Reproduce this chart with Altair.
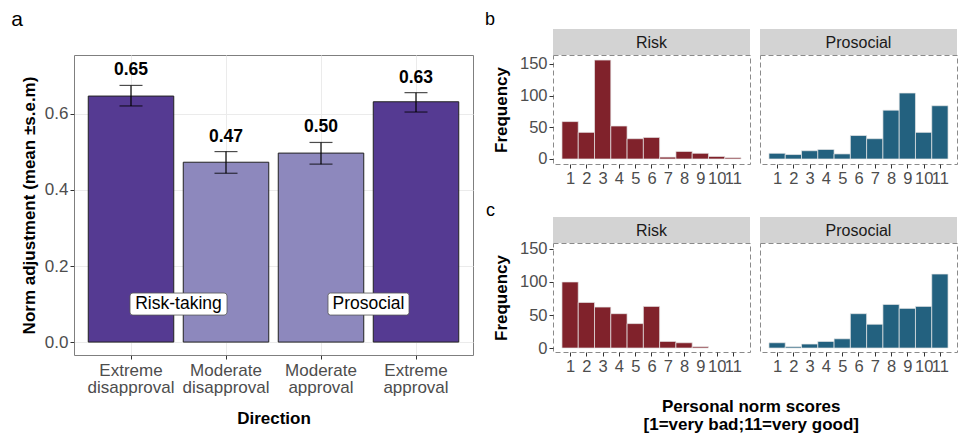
import altair as alt
import pandas as pd

FONT = "Liberation Sans"

# ---------------- panel a data ----------------
directions = ["Extreme disapproval", "Moderate disapproval", "Moderate approval", "Extreme approval"]
intensity = ["Extreme", "Moderate", "Moderate", "Extreme"]
means = [0.647, 0.473, 0.497, 0.632]
lower = [0.621, 0.444, 0.468, 0.605]
upper = [0.675, 0.501, 0.525, 0.656]
mean_labels = ["0.65", "0.47", "0.50", "0.63"]

domain_labels = ["Risk-taking", "Prosocial"]
domain_anchor = ["Extreme disapproval", "Moderate approval"]
domain_y = [0.1, 0.1]

# ---------------- panels b / c data ----------------
scores = list(range(1, 12))
b_risk = [59, 42, 156, 52, 32, 34, 3, 12, 9, 4, 2]
b_pro = [9, 7, 13, 15, 8, 37, 32, 77, 104, 42, 84]
c_risk = [100, 69, 62, 52, 37, 63, 10, 8, 2, 0, 0]
c_pro = [8, 2, 6, 10, 14, 52, 36, 66, 60, 63, 112]
facet_names = ["Risk", "Prosocial"]

PURPLE = ["#553A92", "#8D88BD"]
RED = "#80222B"
BLUE = "#23617F"

# ---------------- panel a ----------------
df_a = pd.DataFrame({"direction": directions, "intensity": intensity, "mean": means,
                     "lower": lower, "upper": upper, "label": mean_labels})

A_W, A_H = 399, 300
x_a = alt.X("direction:N", sort=directions,
            scale=alt.Scale(paddingInner=0.1, paddingOuter=0.15),
            axis=alt.Axis(title="Direction", labelAngle=0, labelExpr="split(datum.label, ' ')",
                          labelFontSize=17, labelColor="#4d4d4d", labelLineHeight=17.5,
                          labelPadding=3, tickSize=4, tickColor="#333333", domain=False,
                          grid=True, gridColor="#EBEBEB", titleFontSize=17, titleFontWeight="bold",
                          titleColor="#000000", titlePadding=15))
y_scale_a = alt.Scale(domain=[-0.034, 0.755], nice=False, zero=False)
y_a = alt.Y("mean:Q", scale=y_scale_a,
            axis=alt.Axis(title="Norm adjustment (mean \u00b1s.e.m)", values=[0, 0.2, 0.4, 0.6],
                          format=".1f", labelFontSize=17, labelColor="#4d4d4d", tickSize=4,
                          tickColor="#333333", labelPadding=2, domain=False, grid=True,
                          gridColor="#EBEBEB", titleFontSize=17, titleFontWeight="bold",
                          titleColor="#000000", titlePadding=6))

base_a = alt.Chart(df_a)
bars_a = base_a.mark_bar(stroke="#222222", strokeWidth=1).encode(
    x=x_a, y=y_a, y2=alt.datum(0),
    color=alt.Color("intensity:N", scale=alt.Scale(domain=["Extreme", "Moderate"], range=PURPLE), legend=None),
)
err_a = base_a.mark_rule(color="#000000", strokeWidth=1.2).encode(
    x=alt.X("direction:N", sort=directions), y=alt.Y("lower:Q", scale=y_scale_a), y2="upper:Q")
cap_lo = base_a.mark_tick(color="#000000", size=23, thickness=1.2).encode(
    x=alt.X("direction:N", sort=directions), y=alt.Y("lower:Q", scale=y_scale_a))
cap_hi = base_a.mark_tick(color="#000000", size=23, thickness=1.2).encode(
    x=alt.X("direction:N", sort=directions), y=alt.Y("upper:Q", scale=y_scale_a))
txt_a = base_a.mark_text(fontSize=17.5, fontWeight="bold", baseline="alphabetic", dy=-10, color="#000000").encode(
    x=alt.X("direction:N", sort=directions), y=alt.Y("upper:Q", scale=y_scale_a), text="label:N")

df_dom = pd.DataFrame({"direction": domain_anchor, "y": domain_y, "label": domain_labels})
box_widths = {"Risk-taking": 97, "Prosocial": 81}
box_layers = []
for lab in domain_labels:
    w = box_widths[lab]
    h = 11.0 / w * 2  # half-height in unit coords (22 px box)
    r = 0.06
    path = (f"M{-1 + r},{-h} L{1 - r},{-h} Q1,{-h} 1,{-h + r} L1,{h - r} Q1,{h} {1 - r},{h} "
            f"L{-1 + r},{h} Q-1,{h} -1,{h - r} L-1,{-h + r} Q-1,{-h} {-1 + r},{-h} Z")
    box_layers.append(
        alt.Chart(df_dom).transform_filter(alt.datum.label == lab).mark_point(
            shape=path, size=w * w, filled=True, fill="#ffffff", stroke="#555555",
            strokeWidth=0.8, opacity=1, xOffset=47.5).encode(
            x=alt.X("direction:N", sort=directions), y=alt.Y("y:Q", scale=y_scale_a)))
dom_txt = alt.Chart(df_dom).mark_text(fontSize=17.5, color="#000000", xOffset=47.5).encode(
    x=alt.X("direction:N", sort=directions), y=alt.Y("y:Q", scale=y_scale_a), text="label:N")

panel_a = alt.layer(bars_a, err_a, cap_lo, cap_hi, txt_a, *box_layers, dom_txt).properties(
    width=A_W, height=A_H,
    view=alt.ViewBackground(stroke="#7f7f7f", strokeWidth=1),
    title=alt.TitleParams("a", anchor="start", frame="bounds", fontSize=21, fontWeight="normal",
                          offset=25, dx=-9, color="#000000"),
)

# ---------------- panels b / c ----------------
H_W, H_H = 197, 109


def hist(values, facet, color, ydomain, show_y):
    df = pd.DataFrame({"score": scores, "count": values})
    base = alt.Chart(df).transform_filter("datum.count > 0").transform_calculate(
        lo="datum.score - 0.5", hi="datum.score + 0.5")
    if show_y:
        yaxis = alt.Axis(title="Frequency", values=[0, 50, 100, 150], labelFontSize=16.5,
                         labelColor="#4d4d4d", tickSize=4, tickColor="#333333", labelPadding=2,
                         domain=False, grid=False, titleFontSize=17, titleFontWeight="bold",
                         titleColor="#000000", titlePadding=9)
    else:
        yaxis = None
    bars = base.mark_rect(fill=color, stroke="#e8e8e8", strokeWidth=0.7).encode(
        x=alt.X("lo:Q", scale=alt.Scale(domain=[-0.05, 12.05], nice=False, zero=False),
                axis=alt.Axis(values=scores, title=None, labelFontSize=16.5, labelColor="#4d4d4d",
                              tickSize=4, tickColor="#333333", labelPadding=2, domain=False,
                              grid=False, labelOverlap=False, labelFlush=False, format="d")),
        x2="hi:Q",
        y=alt.Y("count:Q", scale=alt.Scale(domain=ydomain, nice=False, zero=False), axis=yaxis),
        y2=alt.datum(0),
    )
    sdf = pd.DataFrame({"facet": [facet]})
    strip = alt.Chart(sdf).mark_rect(fill="#D3D3D3").encode(
        x=alt.value(0), x2=alt.value(H_W), y=alt.value(-26), y2=alt.value(0))
    stxt = alt.Chart(sdf).mark_text(fontSize=16, color="#1a1a1a", baseline="middle").encode(
        x=alt.value(H_W / 2), y=alt.value(-12.5), text="facet:N")
    return alt.layer(bars, strip, stxt).properties(
        width=H_W, height=H_H,
        view=alt.ViewBackground(stroke="#8a8a8a", strokeWidth=1, strokeDash=[5, 3]))


b_row = alt.hconcat(
    hist(b_risk, facet_names[0], RED, [-7.9, 164], True),
    hist(b_pro, facet_names[1], BLUE, [-7.9, 164], False),
    spacing=8,
).properties(title=alt.TitleParams("b", anchor="start", frame="bounds", fontSize=18, fontWeight="normal",
                                   offset=0, dx=-7, color="#000000"))

c_row = alt.hconcat(
    hist(c_risk, facet_names[0], RED, [-6, 159], True),
    hist(c_pro, facet_names[1], BLUE, [-6, 159], False),
    spacing=8,
).properties(title=alt.TitleParams("c", anchor="start", frame="bounds", fontSize=18, fontWeight="normal",
                                   offset=-3, dx=-6, color="#000000"))

right = alt.vconcat(b_row, c_row, spacing=14).properties(
    title=alt.TitleParams(["Personal norm scores", "[1=very bad;11=very good]"], orient="bottom",
                          anchor="middle", fontSize=17, fontWeight="bold", color="#000000",
                          lineHeight=18, offset=24, dx=30))

chart = alt.hconcat(panel_a, right, spacing=10).properties(
    padding={"left": 2, "top": 0, "right": 0, "bottom": 0}
).configure(font=FONT).configure_view(stroke=None)

chart.save("out.html", embed_options={"renderer": "svg", "actions": False})
